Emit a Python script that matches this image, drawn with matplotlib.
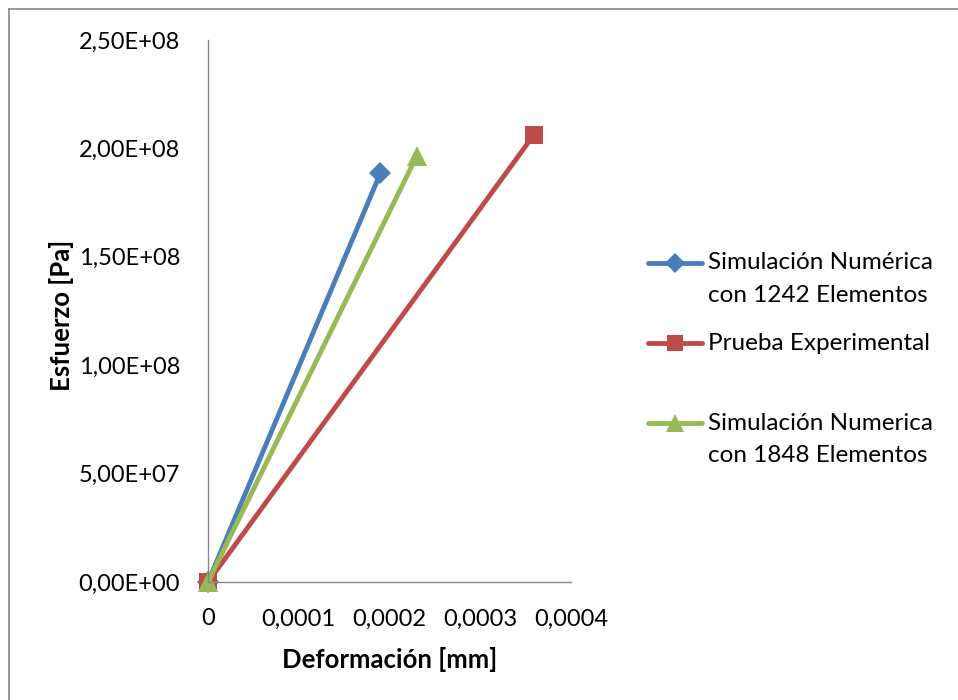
import matplotlib
matplotlib.use("Agg")
import matplotlib.pyplot as plt
from matplotlib.lines import Line2D

plt.rcParams['font.family'] = ['Lato', 'DejaVu Sans']

# Strain [mm] and stress [Pa] for each series
x_sim1242 = [0.0, 0.000190]
y_sim1242 = [0.0, 1.886e8]
x_exp = [0.0, 0.000359]
y_exp = [0.0, 2.062e8]
x_sim1848 = [0.0, 0.000230]
y_sim1848 = [0.0, 1.965e8]

labels = ["Simulación Numérica\ncon 1242 Elementos",
          "Prueba Experimental",
          "Simulación Numerica\ncon 1848 Elementos"]
colors = ["#4a7ebb", "#be4b48", "#98b954"]
markers = ["D", "s", "^"]

x_ticks = [0, 0.0001, 0.0002, 0.0003, 0.0004]
x_ticklabels = ["0", "0,0001", "0,0002", "0,0003", "0,0004"]
y_ticks = [0, 5e7, 1e8, 1.5e8, 2e8, 2.5e8]
y_ticklabels = ["0,00E+00", "5,00E+07", "1,00E+08", "1,50E+08", "2,00E+08", "2,50E+08"]

W, H = 958, 700
fig = plt.figure(figsize=(W / 100, H / 100), dpi=100)
ax = fig.add_axes([208 / W, 1 - 582 / H, (571 - 208) / W, (582 - 40) / H])

series = [(x_sim1242, y_sim1242), (x_exp, y_exp), (x_sim1848, y_sim1848)]
msizes = [11, 13, 14]
for (xs, ys), c, m, ms in zip(series, colors, markers, msizes):
    ax.plot(xs, ys, color=c, lw=3.5, marker=m, markersize=ms,
            markeredgewidth=0, clip_on=False, solid_capstyle='round')

ax.set_xlim(0, 0.0004)
ax.set_ylim(0, 2.5e8)
ax.set_xticks(x_ticks)
ax.set_xticklabels(x_ticklabels)
ax.set_yticks(y_ticks)
ax.set_yticklabels(y_ticklabels)
ax.tick_params(axis='both', length=0, labelsize=17, colors='black')
ax.tick_params(axis='y', pad=20)
ax.tick_params(axis='x', pad=19)

for side in ['top', 'right']:
    ax.spines[side].set_visible(False)
for side in ['left', 'bottom']:
    ax.spines[side].set_color('#868686')
    ax.spines[side].set_linewidth(1.0)

ax.set_xlabel("Deformación [mm]", fontsize=18.5, fontweight='bold')
ax.set_ylabel("Esfuerzo [Pa]", fontsize=18.5, fontweight='bold')
ax.xaxis.set_label_coords((390 - 208) / 363, (582 - 660) / 542)
ax.yaxis.set_label_coords((62 - 208) / 363, (582 - 315) / 542)
ax.xaxis.label.set_va('center')
ax.yaxis.label.set_va('center')

# Legend drawn entry by entry, handle aligned with the first text line
entries_y = [263, 343, 423]
for lab, c, m, ms, yy in zip(labels, colors, markers, msizes, entries_y):
    fy = 1 - yy / H
    fig.add_artist(Line2D([648 / W, 702 / W], [fy, fy], color=c, lw=3.5,
                          solid_capstyle='round', transform=fig.transFigure))
    fig.add_artist(Line2D([675 / W], [fy], color=c, marker=m, markersize=ms - 1,
                          markeredgewidth=0, transform=fig.transFigure))
    for k, line in enumerate(lab.split("\n")):
        fig.text(708 / W, 1 - (yy + 32 * k) / H, line, fontsize=17.5,
                 va='center', ha='left', transform=fig.transFigure)

# Chart area border (left and top edges)
fig.add_artist(Line2D([8.5 / W, 8.5 / W], [0, 1 - 9 / H], color='#868686', lw=1.2,
                      transform=fig.transFigure))
fig.add_artist(Line2D([8.5 / W, 1], [1 - 9 / H, 1 - 9 / H], color='#868686', lw=1.2,
                      transform=fig.transFigure))

fig.savefig("out.png", dpi=100, facecolor='white')
